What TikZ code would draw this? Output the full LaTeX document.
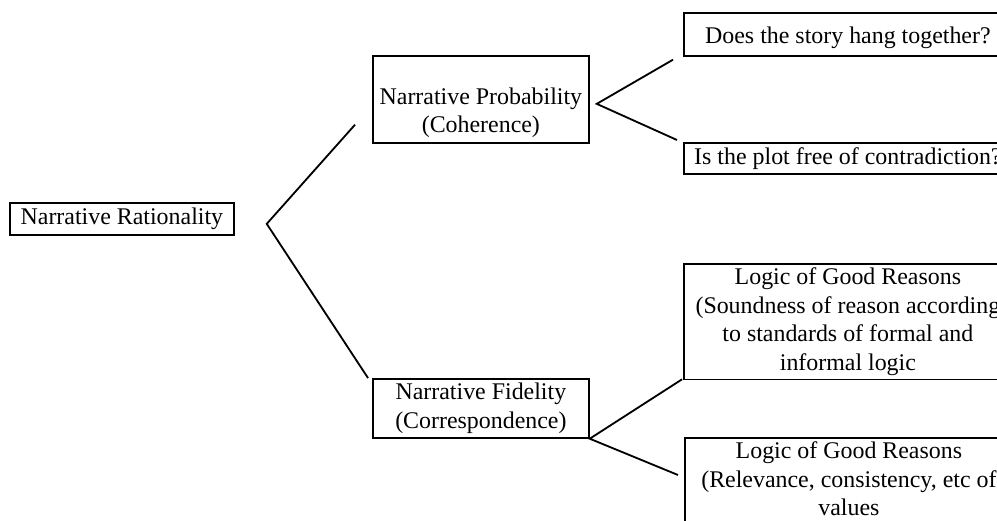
\documentclass[tikz,border=0pt]{standalone}
\usepackage{fontspec}
\setmainfont{Liberation Serif}
\usepackage{tikz}
\usetikzlibrary{positioning, calc}
\tikzset{
  box/.style={rectangle, draw=black, line width=1.2pt, fill=white,
              align=center, inner sep=3pt, font=\fontsize{17}{20.2}\selectfont},
  midbox/.style={box, minimum width=5.4cm, minimum height=#1},
  midbox/.default=1.475cm,
  leafbox/.style={box, minimum width=8.2cm, minimum height=#1},
  leafbox/.default=0.775cm,
  link/.style={line width=1.3pt, color=black},
}

\begin{document}
\begin{tikzpicture}[x=0.025cm, y=-0.025cm]
  \useasboundingbox (0,0) rectangle (997,520);

  \node[box, minimum width=5.6cm, minimum height=0.8cm, anchor=north west] (root) at (9,202)
        {Narrative Rationality};

  \node[midbox=2.175cm, anchor=north west] (prob) at (372,55)
        {\rule{0pt}{31pt}Narrative Probability\\(Coherence)};
  \node[midbox, anchor=north west] (fid) at (372,378)
        {Narrative Fidelity\\(Correspondence)};

  \node[leafbox=1.075cm, anchor=north west] (story) at (683,12)
        {\rule{0pt}{17pt}Does the story hang together?};
  \node[leafbox, anchor=north west] (plot) at (683,142)
        {Is the plot free of contradiction?};
  \node[leafbox=2.875cm, anchor=north west] (logic1) at (683,263)
        {Logic of Good Reasons\\(Soundness of reason according\\to standards of formal and\\informal logic};
  \node[leafbox=2.875cm, anchor=north west] (logic2) at (684,437)
        {Logic of Good Reasons\\(Relevance, consistency, etc of\\values\\\strut};

  % forks
  \coordinate (rootfork) at ($(root.east)+(32,5)$);
  \draw[link] ($(prob.south west)+(-17,-19)$) -- (rootfork) -- ($(fid.north west)+(-4,0)$);

  \coordinate (probfork) at ($(prob.east)+(7,4.5)$);
  \draw[link] ($(story.south west)+(-10,3)$) -- (probfork) -- ($(plot.north west)+(-6,-2)$);

  \coordinate (fidfork) at (fid.south east);
  \draw[link] ($(logic1.south west)+(-1,-1)$) -- (fidfork) -- ($(logic2.north west)+(-6,38)$);
\end{tikzpicture}
\end{document}
